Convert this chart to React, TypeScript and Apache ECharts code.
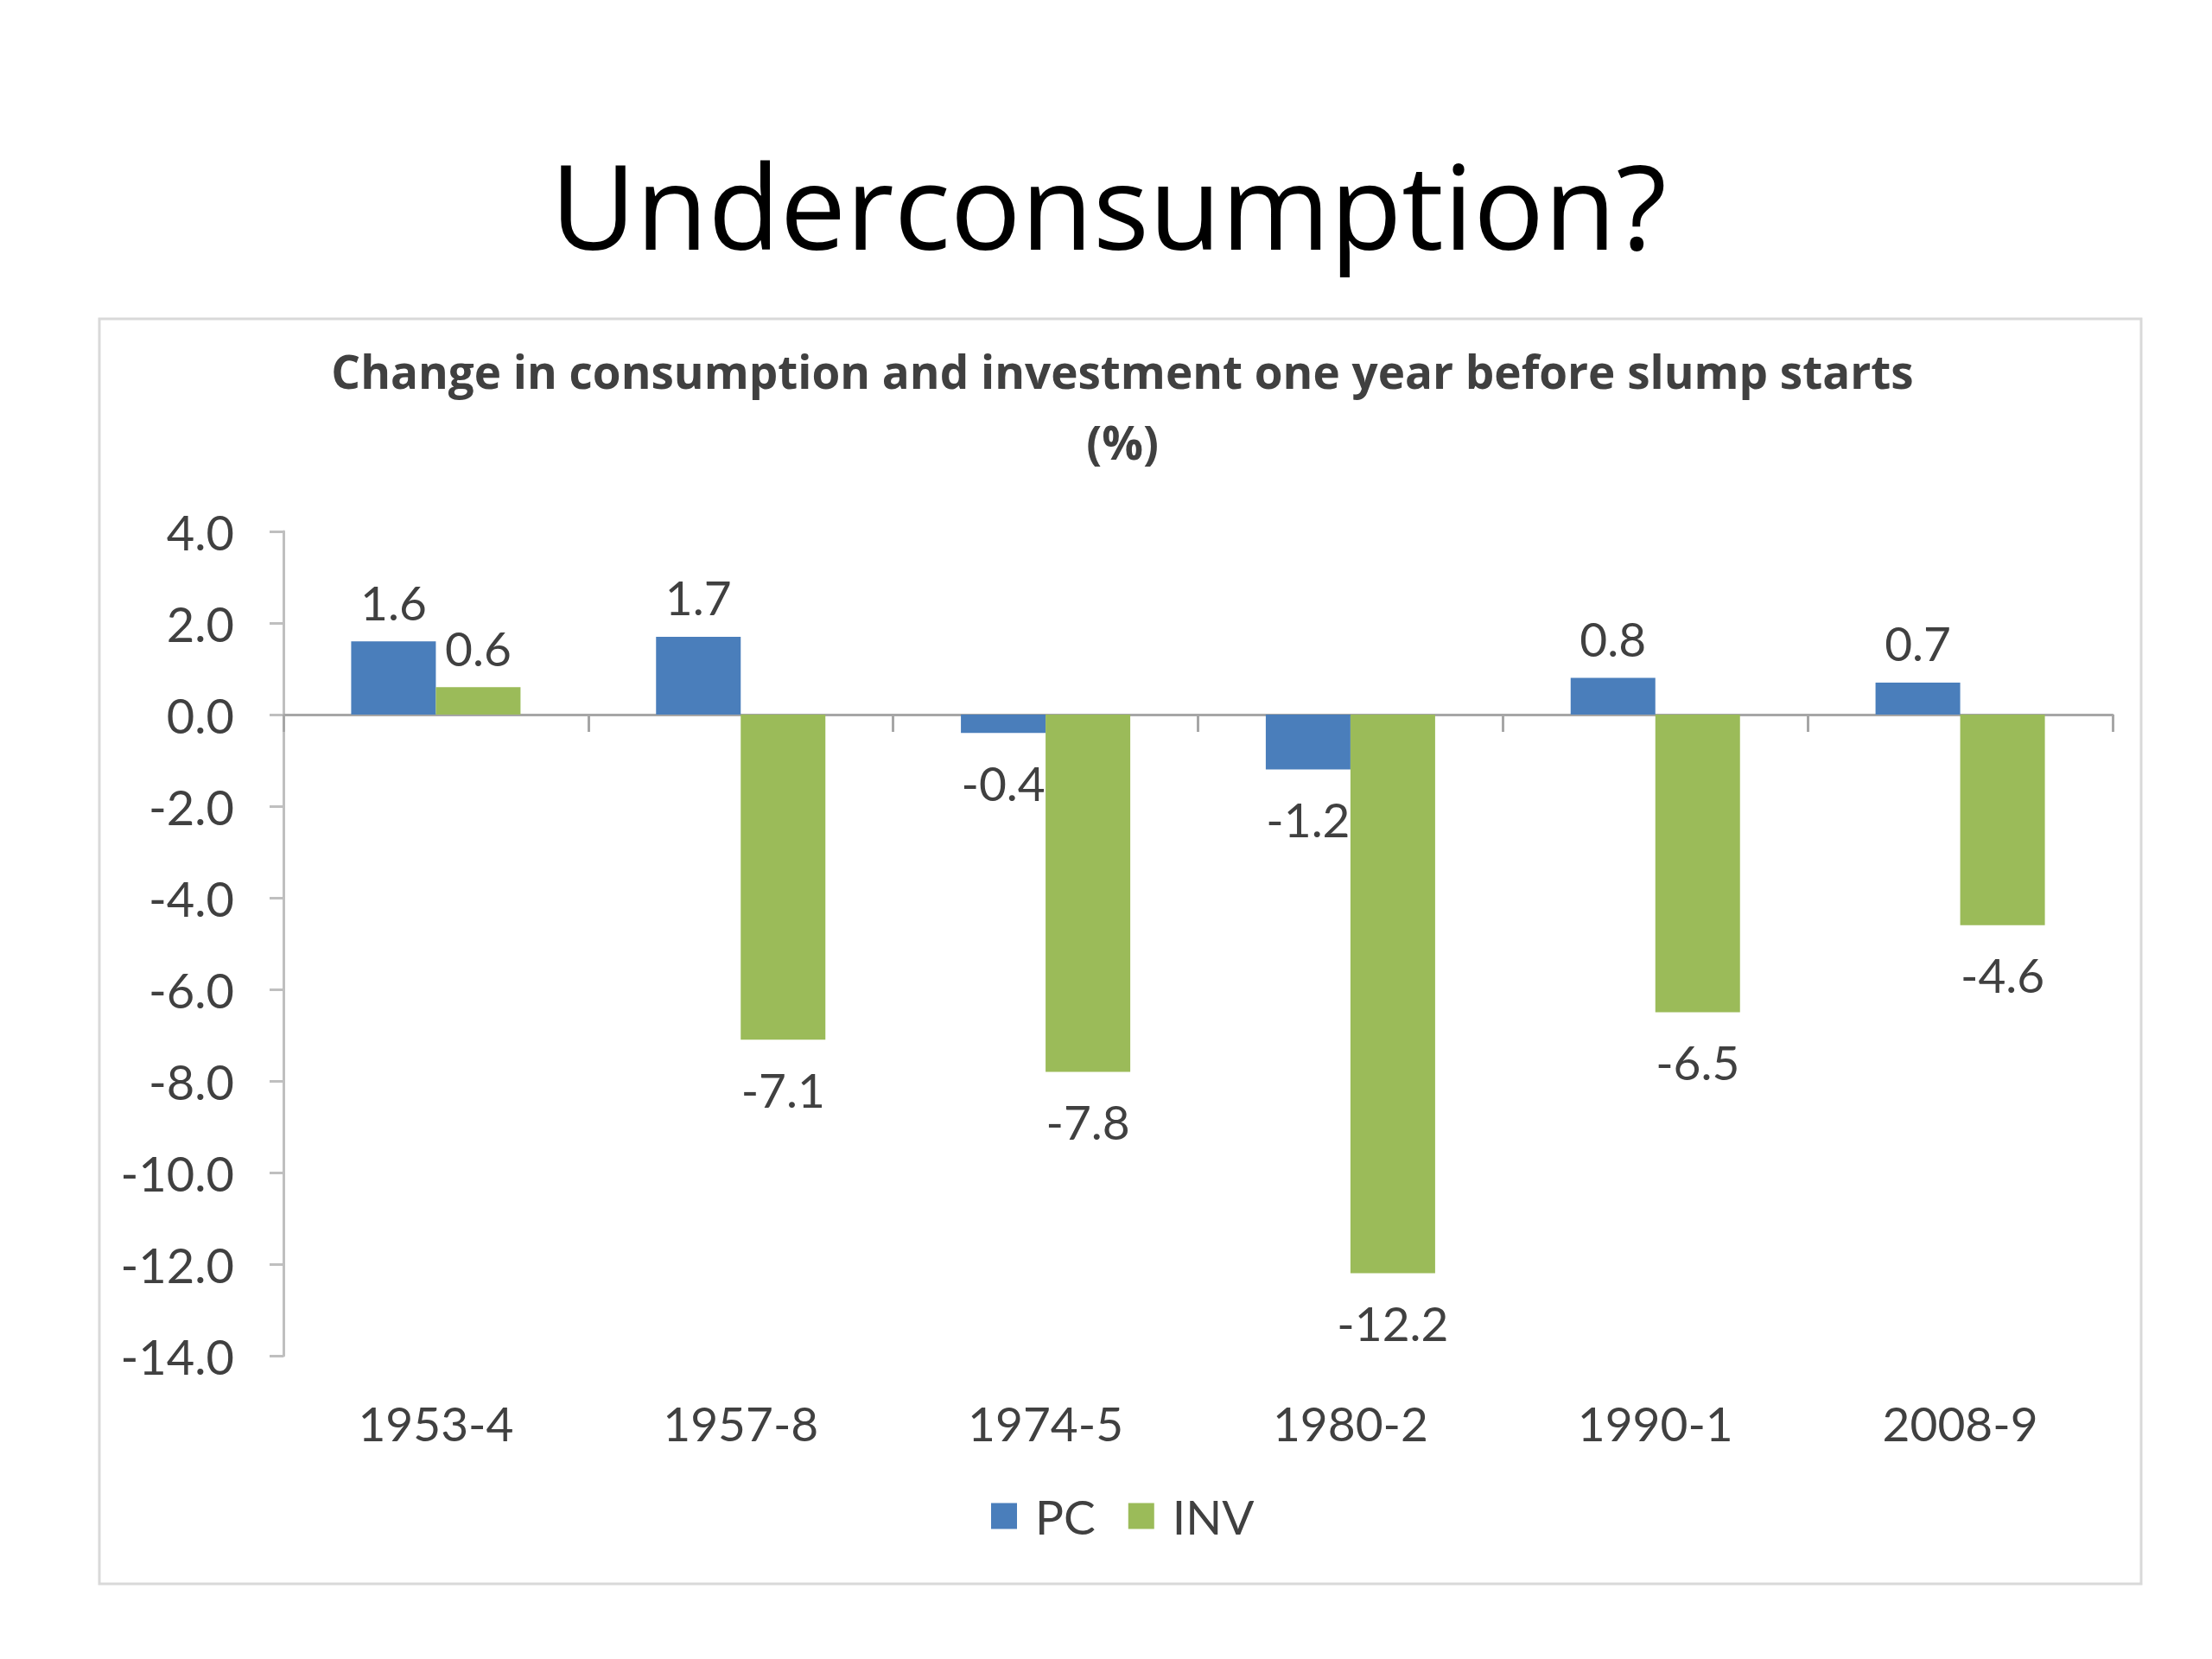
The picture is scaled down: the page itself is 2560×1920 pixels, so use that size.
import React, { useEffect, useRef } from "react";
import * as echarts from "echarts";

const categories = ["1953-4", "1957-8", "1974-5", "1980-2", "1990-1", "2008-9"];
const pcValues = [1.6, 1.7, -0.4, -1.2, 0.8, 0.7];
const invValues = [0.6, -7.1, -7.8, -12.2, -6.5, -4.6];
const seriesNames = ["PC", "INV"];
const mainTitle = "Underconsumption?";
const chartTitle = "Change in consumption and investment one year before slump starts\n(%)";

const FONT = "Lato, 'Open Sans', sans-serif";
const TITLE_FONT = "'Open Sans', 'Noto Sans', sans-serif";
const TEXT = "#404040";

function labelled(values: number[]) {
  return values.map((v) => ({
    value: v,
    label: { position: v >= 0 ? "top" : "bottom", distance: v >= 0 ? 18 : 30 },
  }));
}

export default function App() {
  const ref = useRef<HTMLDivElement>(null);
  useEffect(() => {
    if (!ref.current) return;
    const chart = echarts.init(ref.current, null, { renderer: "svg" });
    const labelStyle = {
      show: true,
      fontFamily: FONT,
      fontSize: 55,
      color: TEXT,
      formatter: (p: any) => Number(p.value).toFixed(1),
    };
    chart.setOption({
      animation: false,
      backgroundColor: "#ffffff",
      title: [
        {
          text: chartTitle,
          left: 1294,
          top: 383,
          textAlign: "center",
          textStyle: {
            fontFamily: TITLE_FONT,
            fontWeight: "bold",
            fontSize: 53,
            lineHeight: 82,
            color: TEXT,
          },
        },
      ],
      graphic: [
        {
          type: "text",
          x: 1283,
          y: 236,
          style: {
            text: mainTitle,
            fontFamily: TITLE_FONT,
            fontSize: 136,
            fill: "#000000",
            align: "center",
            verticalAlign: "middle",
          },
        },
        {
          type: "rect",
          shape: { x: 115, y: 369, width: 2363, height: 1464 },
          style: { fill: "none", stroke: "#D9D9D9", lineWidth: 3 },
          z: -1,
        },
      ],
      legend: {
        data: seriesNames,
        left: 1142,
        top: 1722,
        icon: "rect",
        itemWidth: 30,
        itemHeight: 30,
        itemGap: 38,
        textStyle: { fontFamily: FONT, fontSize: 55, color: TEXT, padding: [0, 0, 0, 16] },
      },
      grid: { left: 328, right: 115, top: 615, bottom: 351 },
      xAxis: [
        {
          type: "category",
          data: categories,
          position: "bottom",
          axisLine: { show: true, onZero: true, lineStyle: { color: "#A6A6A6", width: 3 } },
          axisTick: { show: true, length: 20, lineStyle: { color: "#A6A6A6", width: 3 } },
          axisLabel: { show: false },
        },
        {
          type: "category",
          data: categories,
          position: "bottom",
          axisLine: { show: false, onZero: false },
          axisTick: { show: false },
          axisLabel: { show: true, margin: 50, fontFamily: FONT, fontSize: 55, color: TEXT },
        },
      ],
      yAxis: {
        type: "value",
        min: -14,
        max: 4,
        interval: 2,
        splitLine: { show: false },
        axisLine: { show: true, lineStyle: { color: "#BFBFBF", width: 3 } },
        axisTick: { show: true, length: 16, lineStyle: { color: "#BFBFBF", width: 3 } },
        axisLabel: {
          margin: 57,
          fontFamily: FONT,
          fontSize: 56,
          color: TEXT,
          formatter: (v: number) => v.toFixed(1),
        },
      },
      series: [
        {
          name: seriesNames[0],
          type: "bar",
          xAxisIndex: 0,
          data: labelled(pcValues),
          barWidth: 98,
          barGap: "0%",
          itemStyle: { color: "#4A7EBB" },
          label: labelStyle,
        },
        {
          name: seriesNames[1],
          type: "bar",
          xAxisIndex: 0,
          data: labelled(invValues),
          barWidth: 98,
          barGap: "0%",
          itemStyle: { color: "#9BBB59" },
          label: labelStyle,
        },
      ],
    });
    return () => chart.dispose();
  }, []);
  return (
    <div
      ref={ref}
      style={{ position: "fixed", left: 0, top: 0, width: 2560, height: 1920 }}
    />
  );
}
